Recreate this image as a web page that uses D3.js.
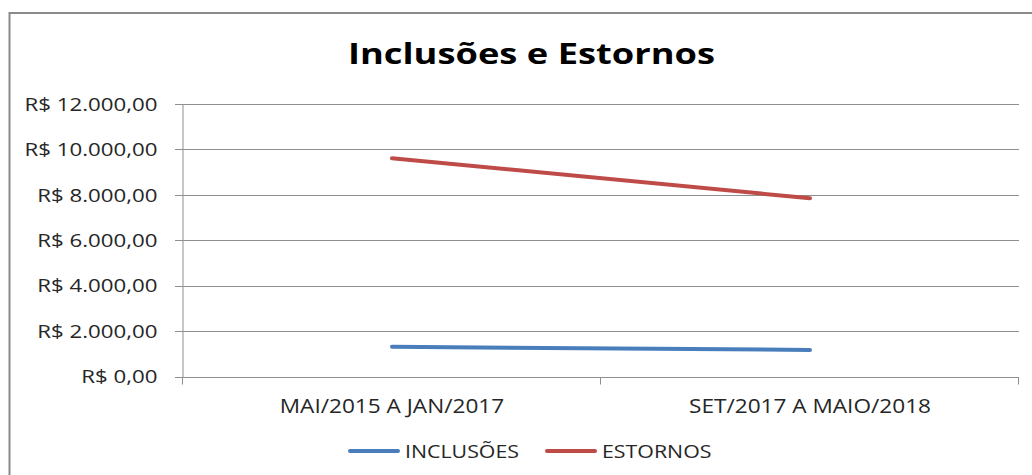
<!DOCTYPE html>
<html>
<head>
<meta charset="utf-8">
<script src="https://cdn.jsdelivr.net/npm/d3@7"></script>
<style>
  html, body { margin: 0; padding: 0; background: #fff; }
  svg { display: block; }
</style>
</head>
<body>
<svg id="chart" width="1032" height="475"></svg>
<script>
const titleText = "Inclusões e Estornos";
const categories = ["MAI/2015 A JAN/2017", "SET/2017 A MAIO/2018"];
const seriesNames = ["INCLUSÕES", "ESTORNOS"];
const inclusoes = [1310, 1170];
const estornos = [9610, 7850];
const yTicks = [0, 2000, 4000, 6000, 8000, 10000, 12000];

const colors = ["#4a7ebb", "#be4b48"];
const FONT = "'Open Sans', Lato, sans-serif";

const svg = d3.select("#chart");
const W = 1032, H = 475;
svg.append("rect").attr("width", W).attr("height", H).attr("fill", "#fff");

// outer border
svg.append("rect")
  .attr("x", 9.5).attr("y", 13).attr("width", 1040).attr("height", 500)
  .attr("fill", "none").attr("stroke", "#8a8a8a").attr("stroke-width", 2);

const plot = { left: 183, right: 1019, top: 104, bottom: 376.5 };

const x = d3.scaleBand().domain(categories).range([plot.left, plot.right]);
const y = d3.scaleLinear().domain([0, 12000]).range([plot.bottom, plot.top]);

const br = d3.formatLocale({ decimal: ",", thousands: ".", grouping: [3], currency: ["R$ ", ""] });
const fmt = br.format("$,.2f");

function stretch(sel, factor) {
  sel.each(function () {
    const w = this.getComputedTextLength();
    d3.select(this).attr("textLength", w * factor).attr("lengthAdjust", "spacingAndGlyphs");
  });
}
function fitGroup(sel, refWidth) {
  let maxW = 0;
  sel.each(function () { maxW = Math.max(maxW, this.getComputedTextLength()); });
  stretch(sel, refWidth / maxW);
}

// gridlines
svg.append("g").selectAll("line").data(yTicks).join("line")
  .attr("x1", plot.left - 8).attr("x2", plot.right)
  .attr("y1", d => Math.round(y(d)) + 0.5).attr("y2", d => Math.round(y(d)) + 0.5)
  .attr("stroke", "#8f8f8f").attr("stroke-width", 1);

// y axis
const yAxis = svg.append("g").attr("transform", `translate(${plot.left - 0.5},0)`)
  .call(d3.axisLeft(y).tickValues(yTicks).tickFormat(fmt).tickSizeInner(8).tickSizeOuter(0).tickPadding(17));
yAxis.select(".domain").attr("stroke", "#8f8f8f");
yAxis.selectAll(".tick line").attr("stroke", "none");
yAxis.selectAll("text").attr("font-family", FONT).attr("font-size", 17.5).attr("fill", "#262626").attr("dy", "0.36em");
fitGroup(yAxis.selectAll("text"), 133);

// x axis
const xAxis = svg.append("g").attr("transform", `translate(0,${Math.round(y(0)) + 0.5})`);
xAxis.append("line").attr("x1", plot.left).attr("x2", plot.right).attr("stroke", "#8f8f8f");
const boundaries = [plot.left, ...categories.map(c => x(c) + x.bandwidth())];
xAxis.selectAll("line.tk").data(boundaries).join("line").attr("class", "tk")
  .attr("x1", d => Math.round(d) - 0.5).attr("x2", d => Math.round(d) - 0.5)
  .attr("y1", 0).attr("y2", 7).attr("stroke", "#8f8f8f");
const xl = xAxis.selectAll("text").data(categories).join("text")
  .attr("x", d => x(d) + x.bandwidth() / 2).attr("y", 35)
  .attr("text-anchor", "middle")
  .attr("font-family", FONT).attr("font-size", 20).attr("fill", "#262626")
  .text(d => d);
fitGroup(xl, 242);

// lines
const series = [inclusoes, estornos];
const line = d3.line().x((d, i) => x(categories[i]) + x.bandwidth() / 2).y(d => y(d));
svg.append("g").selectAll("path").data(series).join("path")
  .attr("d", d => line(d))
  .attr("fill", "none")
  .attr("stroke", (d, i) => colors[i])
  .attr("stroke-width", 4)
  .attr("stroke-linecap", "round")
  .attr("stroke-linejoin", "round");

// title
const t = svg.append("text")
  .attr("x", 531.5).attr("y", 63.5)
  .attr("text-anchor", "middle")
  .attr("font-family", FONT).attr("font-weight", "bold").attr("font-size", 28.5)
  .attr("fill", "#000")
  .text(titleText);
fitGroup(t, 367);

// legend
const legendX = [350, 547];
const lg = svg.append("g");
seriesNames.forEach((name, i) => {
  lg.append("line")
    .attr("x1", legendX[i]).attr("x2", legendX[i] + 48)
    .attr("y1", 451).attr("y2", 451)
    .attr("stroke", colors[i]).attr("stroke-width", 4).attr("stroke-linecap", "round");
  lg.append("text").attr("class", "lgt")
    .attr("x", legendX[i] + 55).attr("y", 457.5)
    .attr("font-family", FONT).attr("font-size", 19).attr("fill", "#262626")
    .text(name);
});
fitGroup(lg.selectAll("text.lgt"), 114);
</script>
</body>
</html>
